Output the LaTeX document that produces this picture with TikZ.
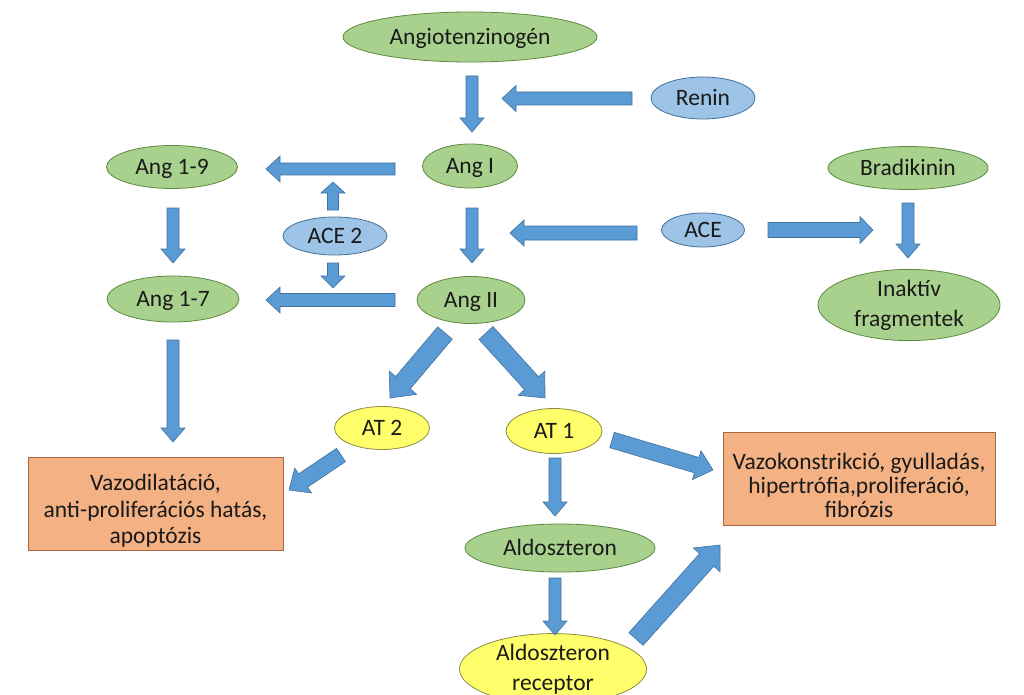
\documentclass[tikz,border=0pt]{standalone}
\usepackage{fontspec}
\setmainfont{Carlito}
\usetikzlibrary{shapes.geometric}
\definecolor{gfill}{HTML}{A9D18E}
\definecolor{gline}{HTML}{5E8A3E}
\definecolor{bfill}{HTML}{9DC3E6}
\definecolor{bline}{HTML}{41719C}
\definecolor{yfill}{HTML}{FFFF6B}
\definecolor{yline}{HTML}{8A8A40}
\definecolor{ofill}{HTML}{F4B183}
\definecolor{oline}{HTML}{A86A3C}
\definecolor{afill}{HTML}{5B9BD5}
\definecolor{aline}{HTML}{41719C}
\definecolor{txt}{HTML}{1A1A1A}
\makeatletter
\newcommand\blockarrow[5]{%
  \pgfpointdiff{\pgfpointanchor{#1}{center}}{\pgfpointanchor{#2}{center}}%
  \edef\bdx{\the\pgf@x}\edef\bdy{\the\pgf@y}%
  \pgfmathsetmacro\bang{atan2(\bdy,\bdx)}%
  \pgfmathsetmacro\blen{veclen(\bdx,\bdy)}%
  \draw[arrowshape, shift={(#1)}, rotate=\bang, x=1pt, y=1pt]
    (0,#3) -- ({\blen-#5},#3) -- ({\blen-#5},#4) -- (\blen,0)
    -- ({\blen-#5},-#4) -- ({\blen-#5},-#3) -- (0,-#3) -- cycle;
}
\makeatother
\tikzset{
  every node/.style={text=txt, font=\fontsize{23.5}{28}\selectfont},
  gbase/.style={ellipse, draw=gline, fill=gfill, line width=0.8pt, inner sep=0pt},
  bbase/.style={ellipse, draw=bline, fill=bfill, line width=0.8pt, inner sep=0pt},
  ybase/.style={ellipse, draw=yline, fill=yfill, line width=0.8pt, inner sep=0pt},
  sl/.style={text height=18.8pt, text depth=3.8pt},
  gnode/.style={gbase, sl},
  bnode/.style={bbase, sl},
  ynode/.style={ybase, sl},
  obox/.style={rectangle, draw=oline, fill=ofill, line width=0.8pt, inner sep=0pt, align=center},
  twoline/.style={align=center, font=\fontsize{23.5}{30}\selectfont},
  arrowshape/.style={draw=aline, fill=afill, line width=0.6pt, line join=miter}
}
\begin{document}
\begin{tikzpicture}[x=1pt, y=-1pt]
\useasboundingbox (0,0) rectangle (1024,695);
\fill[white] (0,0) rectangle (1024,695);

% nodes
\node[gnode, minimum width=254pt, minimum height=50pt] (angtg) at (470,37) {Angiotenzinogén};
\node[bnode, minimum width=104pt, minimum height=42pt] (renin) at (703,98) {Renin};
\node[gnode, minimum width=95pt, minimum height=44pt] (angI) at (470,166) {Ang I};
\node[gnode, minimum width=131pt, minimum height=43pt] (ang19) at (172,167) {Ang 1-9};
\node[bnode, minimum width=104pt, minimum height=38pt] (ace2) at (335,236) {ACE 2};
\node[gnode, minimum width=132pt, minimum height=46pt] (ang17) at (173,299) {Ang 1-7};
\node[gnode, minimum width=108pt, minimum height=47pt] (angII) at (471,300) {Ang II};
\node[bnode, minimum width=83pt, minimum height=34pt] (ace) at (703,230) {ACE};
\node[gnode, minimum width=160pt, minimum height=43pt] (brad) at (908,168) {Bradikinin};
\node[gbase, twoline, minimum width=182pt, minimum height=71pt] (inakt) at (909,305) {Inaktív\\fragmentek};
\node[ynode, minimum width=95pt, minimum height=43pt] (at2) at (382,428) {AT 2};
\node[ynode, minimum width=96pt, minimum height=45pt] (at1) at (554,431) {AT 1};
\node[gnode, minimum width=190pt, minimum height=48pt] (aldo) at (560,548) {Aldoszteron};
\node[ybase, twoline, minimum width=187pt, minimum height=56pt] (recep) at (553,669) {Aldoszteron\\receptor};
\node[obox, font=\fontsize{23.5}{26.5}\selectfont, minimum width=255pt, minimum height=93pt] (lbox) at (155.5,503.5)
  {\rule{0pt}{33pt}Vazodilatáció,\\anti-proliferációs hatás,\\apoptózis\rule[-6pt]{0pt}{6pt}};
\node[obox, font=\fontsize{23.5}{24}\selectfont, minimum width=272pt, minimum height=93pt] (rbox) at (859,478.5)
  {\rule{0pt}{36pt}Vazokonstrikció, gyulladás,\\hipertrófia,proliferáció,\\fibrózis\rule[-6pt]{0pt}{6pt}};

% arrow end points
\coordinate (a1s) at (472,76);  \coordinate (a1e) at (472,132);
\coordinate (a2s) at (632,98.5); \coordinate (a2e) at (502,98.5);
\coordinate (a3s) at (395,169); \coordinate (a3e) at (266,169);
\coordinate (a4s) at (333,210); \coordinate (a4e) at (333,182);
\coordinate (a5s) at (333,263); \coordinate (a5e) at (333,288);
\coordinate (a6s) at (472,208); \coordinate (a6e) at (472,263);
\coordinate (a7s) at (637,233); \coordinate (a7e) at (510,233);
\coordinate (a8s) at (768,230); \coordinate (a8e) at (873,230);
\coordinate (a9s) at (908,203); \coordinate (a9e) at (908,258);
\coordinate (a10s) at (173,208); \coordinate (a10e) at (173,263);
\coordinate (a11s) at (395,300); \coordinate (a11e) at (266,300);
\coordinate (a12s) at (173,340); \coordinate (a12e) at (173,442);
\coordinate (a13s) at (445,333); \coordinate (a13e) at (390,398);
\coordinate (a14s) at (486,333); \coordinate (a14e) at (545,398);
\coordinate (a15s) at (341,455); \coordinate (a15e) at (289,490);
\coordinate (a16s) at (612,440); \coordinate (a16e) at (713,470);
\coordinate (a17s) at (555,458); \coordinate (a17e) at (555,516);
\coordinate (a18s) at (555,578); \coordinate (a18e) at (555,635);
\coordinate (a19s) at (636,639); \coordinate (a19e) at (720,545);

% block arrows: from, to, shaft half width, head half width, head length
\blockarrow{a1s}{a1e}{6}{12}{14}
\blockarrow{a2s}{a2e}{6.5}{13}{14}
\blockarrow{a3s}{a3e}{6}{13}{14}
\blockarrow{a4s}{a4e}{5.5}{12}{11}
\blockarrow{a5s}{a5e}{5.5}{12}{12}
\blockarrow{a6s}{a6e}{6}{12}{14}
\blockarrow{a7s}{a7e}{7}{13}{14}
\blockarrow{a8s}{a8e}{7.5}{13.5}{13}
\blockarrow{a9s}{a9e}{6}{12}{14}
\blockarrow{a10s}{a10e}{6}{12}{14}
\blockarrow{a11s}{a11e}{6.5}{13}{14}
\blockarrow{a12s}{a12e}{6}{12}{14}
\blockarrow{a13s}{a13e}{9.5}{18}{20}
\blockarrow{a14s}{a14e}{9.5}{18}{20}
\blockarrow{a15s}{a15e}{8}{15}{17}
\blockarrow{a16s}{a16e}{8}{15}{17}
\blockarrow{a17s}{a17e}{6}{12}{14}
\blockarrow{a18s}{a18e}{6}{12}{14}
\blockarrow{a19s}{a19e}{9.5}{18}{20}
\end{tikzpicture}
\end{document}
